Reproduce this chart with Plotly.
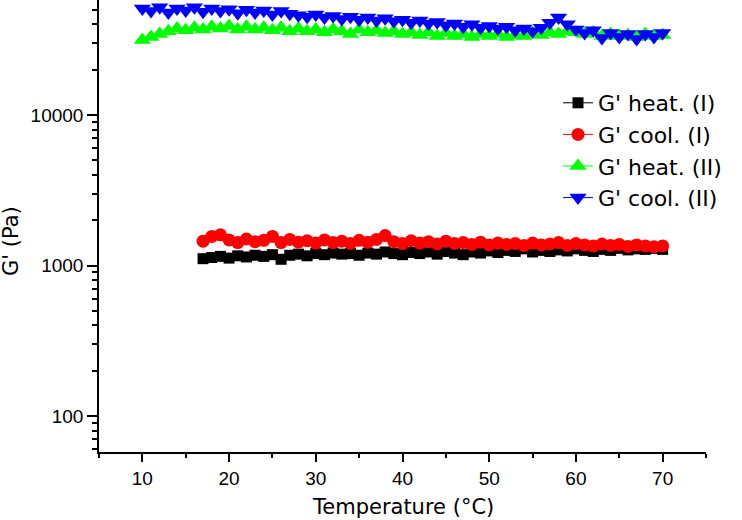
import plotly.graph_objects as go

# ─── Data ─────────────────────────────────────────────────────────────────────

T_HEAT_I = [17, 18, 19, 20, 21, 22, 23, 24, 25, 26, 27, 28, 29, 30, 31, 32, 33, 34,
            35, 36, 37, 38, 39, 40, 41, 42, 43, 44, 45, 46, 47, 48, 49, 50, 51, 52,
            53, 54, 55, 56, 57, 58, 59, 60, 61, 62, 63, 64, 65, 66, 67, 68, 69, 70]
G_HEAT_I = [1110, 1130, 1150, 1120, 1160, 1140, 1170, 1150, 1180, 1100, 1170, 1190,
            1160, 1200, 1180, 1210, 1190, 1200, 1170, 1210, 1190, 1230, 1200, 1180,
            1220, 1200, 1230, 1190, 1240, 1210, 1180, 1230, 1210, 1250, 1220, 1260,
            1240, 1290, 1230, 1260, 1240, 1270, 1250, 1290, 1260, 1240, 1280, 1260,
            1300, 1270, 1290, 1280, 1300, 1280]

T_COOL_I = [17, 18, 19, 20, 21, 22, 23, 24, 25, 26, 27, 28, 29, 30, 31, 32, 33, 34,
            35, 36, 37, 38, 39, 40, 41, 42, 43, 44, 45, 46, 47, 48, 49, 50, 51, 52,
            53, 54, 55, 56, 57, 58, 59, 60, 61, 62, 63, 64, 65, 66, 67, 68, 69, 70]
G_COOL_I = [1450, 1560, 1600, 1480, 1420, 1500, 1440, 1470, 1560, 1420, 1490, 1430,
            1460, 1410, 1480, 1420, 1450, 1400, 1470, 1430, 1490, 1580, 1440, 1400,
            1460, 1410, 1440, 1390, 1450, 1400, 1420, 1380, 1430, 1370, 1410, 1380,
            1400, 1360, 1410, 1370, 1390, 1420, 1360, 1400, 1370, 1350, 1390, 1360,
            1380, 1340, 1370, 1350, 1330, 1350]

T_HEAT_II = [10, 11, 12, 13, 14, 15, 16, 17, 18, 19, 20, 21, 22, 23, 24, 25, 26, 27,
             28, 29, 30, 31, 32, 33, 34, 35, 36, 37, 38, 39, 40, 41, 42, 43, 44, 45,
             46, 47, 48, 49, 50, 51, 52, 53, 54, 55, 56, 57, 58, 59, 60, 61, 62, 63,
             64, 65, 66, 67, 68, 69, 70]
G_HEAT_II = [31500, 33000, 34500, 36000, 37500, 36500, 38000, 37000, 38500, 37500,
             39000, 37000, 38500, 37000, 38000, 36500, 38000, 36000, 37500, 36000,
             37000, 35500, 37000, 36000, 34500, 37000, 35500, 36500, 35000, 36000,
             34500, 35500, 34000, 35500, 33500, 35000, 33500, 34500, 33000, 34500,
             33500, 34500, 33000, 34000, 33500, 35000, 34000, 35500, 34500, 36000,
             35500, 34500, 35500, 33500, 34500, 33500, 34000, 33000, 34500, 33500,
             34000]

T_COOL_II = [10, 11, 12, 13, 14, 15, 16, 17, 18, 19, 20, 21, 22, 23, 24, 25, 26, 27,
             28, 29, 30, 31, 32, 33, 34, 35, 36, 37, 38, 39, 40, 41, 42, 43, 44, 45,
             46, 47, 48, 49, 50, 51, 52, 53, 54, 55, 56, 57, 58, 59, 60, 61, 62, 63,
             64, 65, 66, 67, 68, 69, 70]
G_COOL_II = [51000, 49000, 52000, 48000, 51000, 49500, 52000, 48500, 51000, 49000,
             50500, 47500, 50000, 48000, 49500, 46500, 49000, 47000, 46000, 45000,
             46500, 44500, 45500, 43500, 45000, 43000, 44500, 42500, 44000, 42000,
             43000, 41000, 42500, 40500, 41500, 39500, 40500, 38500, 40000, 38000,
             39000, 37500, 38500, 36500, 37500, 36000, 38000, 41000, 44500, 40000,
             37000, 35000, 36500, 32500, 35000, 33000, 34500, 32000, 34500, 33000,
             35000]

X_TICKS = [10, 20, 30, 40, 50, 60, 70]
X_MINOR = [5, 15, 25, 35, 45, 55, 65, 75]
Y_TICKS = [100, 1000, 10000]
Y_MINOR = [60, 70, 80, 90,
           200, 300, 400, 500, 600, 700, 800, 900,
           2000, 3000, 4000, 5000, 6000, 7000, 8000, 9000,
           20000, 30000, 40000, 50000]

# ─── Styles ───────────────────────────────────────────────────────────────────

SERIES = [
    ("G' heat. (I)",  T_HEAT_I,  G_HEAT_I,  "#000000", "square",        11),
    ("G' cool. (I)",  T_COOL_I,  G_COOL_I,  "#ff0000", "circle",        13),
    ("G' heat. (II)", T_HEAT_II, G_HEAT_II, "#00ff00", "triangle-up",   15),
    ("G' cool. (II)", T_COOL_II, G_COOL_II, "#0000ff", "triangle-down", 15),
]

TICK_FONT  = dict(family="Liberation Sans, Arial", size=19, color="black")
TITLE_FONT = dict(family="DejaVu Sans", size=21, color="black")

fig = go.Figure()

for name, x, y, color, symbol, size in SERIES:
    fig.add_trace(go.Scatter(
        x=x, y=y, name=name,
        mode="lines+markers",
        line=dict(color=color, width=1),
        marker=dict(color=color, symbol=symbol, size=size, line=dict(width=0)),
    ))

fig.update_layout(
    width=742, height=520,
    paper_bgcolor="white",
    plot_bgcolor="white",
    margin=dict(l=99, r=36, t=0, b=68),
    showlegend=True,
    legend=dict(
        x=(558 - 99) / 607, y=(452 - 82) / 452,
        xanchor="left", yanchor="top",
        bgcolor="rgba(0,0,0,0)",
        font=dict(family="DejaVu Sans", size=22, color="black"),
        tracegroupgap=0,
    ),
    xaxis=dict(
        range=[5, 75],
        tickvals=X_TICKS,
        ticks="outside", ticklen=8, tickwidth=1.5, tickcolor="black",
        minor=dict(tickvals=X_MINOR, ticks="outside", ticklen=4,
                   tickwidth=1.5, tickcolor="black", showgrid=False),
        showline=True, linecolor="black", linewidth=1.5,
        showgrid=False, zeroline=False,
        tickfont=TICK_FONT,
    ),
    yaxis=dict(
        type="log",
        range=[1.761, 4.764],
        tickvals=Y_TICKS,
        ticktext=[str(v) for v in Y_TICKS],
        ticks="outside", ticklen=10, tickwidth=1.5, tickcolor="black",
        minor=dict(tickvals=Y_MINOR, ticks="outside", ticklen=5, tickwidth=1.5,
                   tickcolor="black", showgrid=False),
        showline=True, linecolor="black", linewidth=1.5,
        showgrid=False, zeroline=False,
        tickfont=TICK_FONT,
    ),
    annotations=[
        dict(text="Temperature (°C)", xref="paper", yref="paper",
             x=0.5, y=(452 - 507) / 452, xanchor="center", yanchor="middle",
             showarrow=False, font=TITLE_FONT),
        dict(text="G' (Pa)", xref="paper", yref="paper",
             x=(11 - 99) / 607, y=(452 - 241) / 452, xanchor="center", yanchor="middle",
             textangle=-90, showarrow=False, font=TITLE_FONT),
    ],
)

# page has a default 8px body margin; drop it so the figure sits at the corner
fig.write_html("out.html", config={"displayModeBar": False},
               post_script="document.body.style.margin='0';")
